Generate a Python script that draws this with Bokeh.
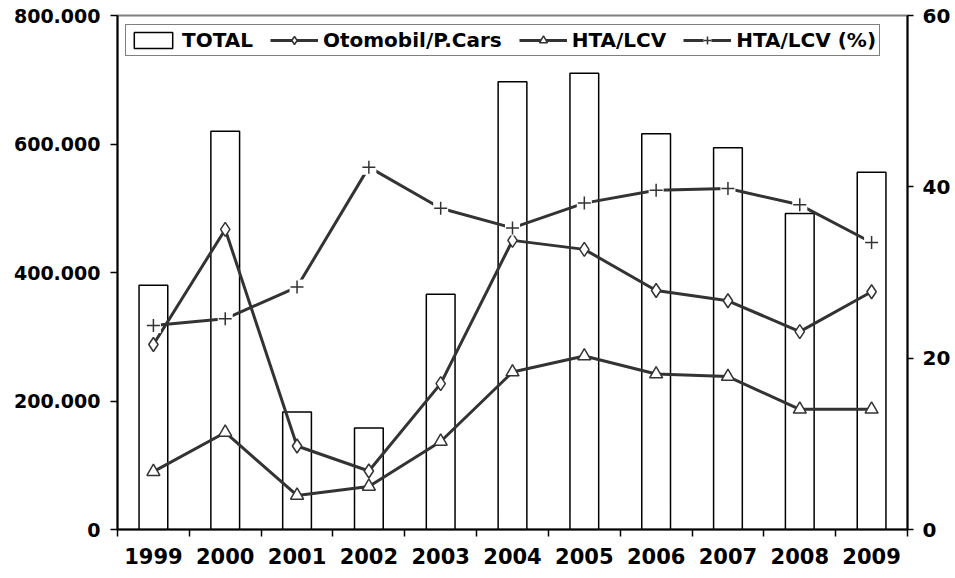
from bokeh.plotting import figure
from bokeh.models import Range1d, LinearAxis, FixedTicker, Legend, LegendItem
from bokeh.embed import file_html
from bokeh.resources import INLINE

years = ["1999", "2000", "2001", "2002", "2003", "2004", "2005", "2006", "2007", "2008", "2009"]
total = [380000, 620000, 183000, 158000, 366000, 697000, 710000, 616000, 594000, 492000, 556000]
cars = [288000, 467000, 130000, 91000, 227000, 450000, 436000, 372000, 356000, 308000, 370000]
lcv = [90000, 151000, 53000, 67000, 137000, 245000, 270000, 242000, 238000, 187000, 187000]
lcv_pct = [23.8, 24.6, 28.3, 42.3, 37.5, 35.2, 38.1, 39.6, 39.8, 37.9, 33.5]

left_ticks = [0, 200000, 400000, 600000, 800000]
left_labels = ["0", "200.000", "400.000", "600.000", "800.000"]
right_ticks = [0, 20, 40, 60]

xs = [i + 0.5 for i in range(len(years))]
bounds = [float(i) for i in range(len(years) + 1)]

LINE = "#333333"
TICK_FONT = "DejaVu Sans"

p = figure(width=953, height=576, output_backend="svg", toolbar_location=None,
           x_range=Range1d(0, len(years)), y_range=Range1d(0, 800000),
           min_border_left=117, min_border_top=15, min_border_right=45, min_border_bottom=47)
p.extra_y_ranges = {"pct": Range1d(0, 60)}
p.xgrid.visible = False
p.ygrid.visible = False
p.outline_line_color = "#808080"
p.outline_line_width = 2
p.background_fill_color = "white"
p.border_fill_color = "white"

r_bar = p.vbar(x=xs, top=total, width=0.4, fill_color="white", line_color="black", line_width=1.5)

r_cars_l = p.line(xs, cars, line_color=LINE, line_width=3)
r_cars_m = p.scatter(xs, cars, marker="diamond", size=14, fill_color="white", line_color=LINE, line_width=1.5)

r_lcv_l = p.line(xs, lcv, line_color=LINE, line_width=3)
r_lcv_m = p.scatter(xs, lcv, marker="triangle", size=13, fill_color="white", line_color=LINE, line_width=1.5)

r_pct_l = p.line(xs, lcv_pct, y_range_name="pct", line_color=LINE, line_width=3)
r_pct_bg = p.scatter(xs, lcv_pct, y_range_name="pct", marker="square", size=15, fill_color="white", line_color=None)
r_pct_m = p.scatter(xs, lcv_pct, y_range_name="pct", marker="cross", size=13, line_color=LINE, line_width=1.5)

# x axis: labels at category centres, ticks at category boundaries
xa = p.xaxis[0]
xa.ticker = FixedTicker(ticks=xs, minor_ticks=bounds)
xa.major_label_overrides = {x: y for x, y in zip(xs, years)}
xa.major_tick_out = 0
xa.major_tick_in = 0
xa.minor_tick_out = 7
xa.minor_tick_in = 0
xa.minor_tick_line_color = "black"
xa.minor_tick_line_width = 1.5
xa.axis_line_color = "black"
xa.axis_line_width = 2
xa.major_label_standoff = 11
xa.major_label_text_font = TICK_FONT
xa.major_label_text_font_style = "bold"
xa.major_label_text_font_size = "21px"
xa.major_label_text_color = "black"

ya = p.yaxis[0]
ya.ticker = FixedTicker(ticks=left_ticks)
ya.major_label_overrides = {t: s for t, s in zip(left_ticks, left_labels)}
ya.major_tick_out = 7
ya.major_tick_in = 0
ya.minor_tick_line_color = None
ya.major_tick_line_width = 1.5
ya.axis_line_color = "black"
ya.axis_line_width = 2
ya.major_label_standoff = 10
ya.major_label_text_font = TICK_FONT
ya.major_label_text_font_style = "bold"
ya.major_label_text_font_size = "19px"
ya.major_label_text_color = "black"

ra = LinearAxis(y_range_name="pct", ticker=FixedTicker(ticks=right_ticks))
ra.major_tick_out = 6
ra.major_tick_in = 0
ra.minor_tick_line_color = None
ra.major_tick_line_width = 1.5
ra.axis_line_color = "black"
ra.axis_line_width = 2
ra.major_label_standoff = 9
ra.major_label_text_font = TICK_FONT
ra.major_label_text_font_style = "bold"
ra.major_label_text_font_size = "20px"
ra.major_label_text_color = "black"
p.add_layout(ra, "right")

legend = Legend(items=[
    LegendItem(label="TOTAL", renderers=[r_bar]),
    LegendItem(label="Otomobil/P.Cars", renderers=[r_cars_l, r_cars_m]),
    LegendItem(label="HTA/LCV", renderers=[r_lcv_l, r_lcv_m]),
    LegendItem(label="HTA/LCV (%)", renderers=[r_pct_l, r_pct_bg, r_pct_m]),
], orientation="horizontal", location=(8, 473))
legend.border_line_color = "black"
legend.border_line_width = 1
legend.background_fill_color = "white"
legend.background_fill_alpha = 1
legend.label_text_font = TICK_FONT
legend.label_text_font_style = "bold"
legend.label_text_font_size = "20px"
legend.label_text_color = "black"
legend.glyph_width = 48
legend.glyph_height = 20
legend.label_standoff = 5
legend.spacing = 17
legend.padding = 3
legend.margin = 0
p.add_layout(legend, "center")

open("out.html", "w").write(file_html(p, INLINE))
